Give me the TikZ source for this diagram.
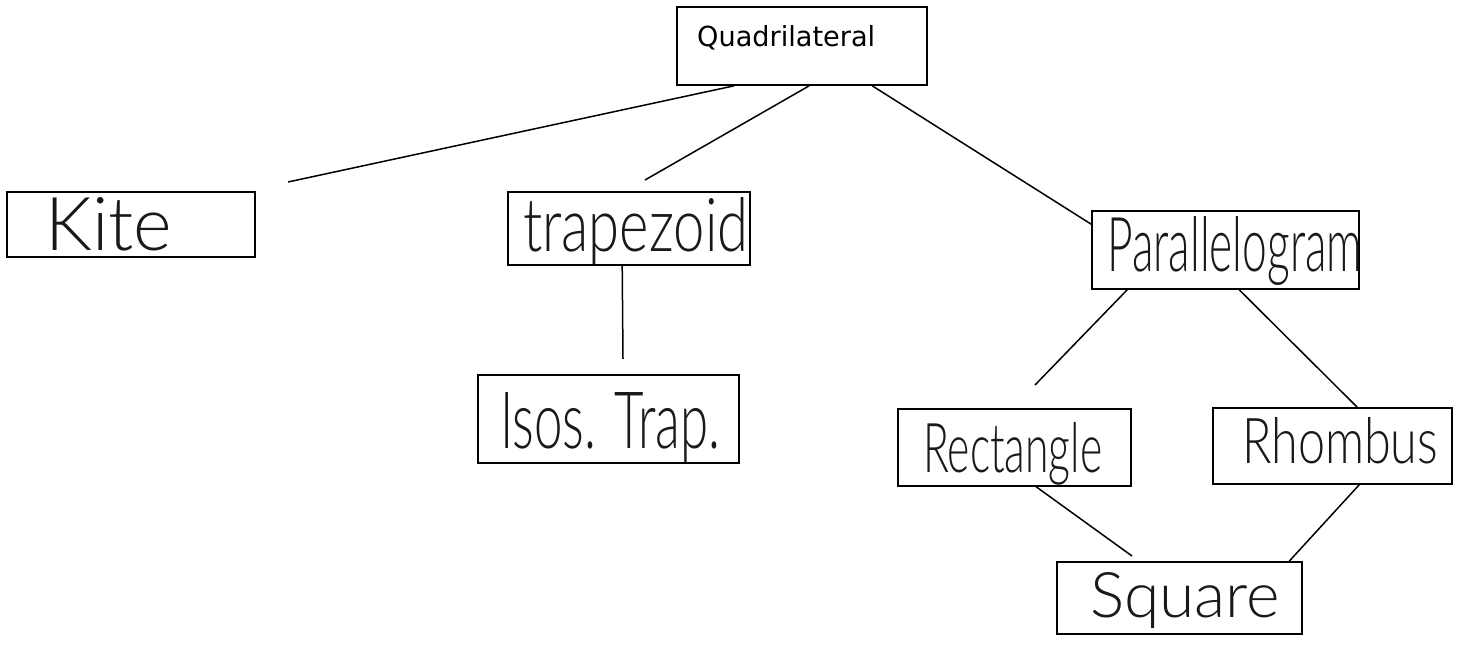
\documentclass[tikz,border=0pt]{standalone}
\usepackage{fontspec}
\usepackage{graphicx}
\usetikzlibrary{calc}
\newfontfamily\handfont{Lato Light}
\newfontfamily\typefont{DejaVu Sans}
\newcommand{\hw}[3]{\resizebox{#1pt}{#2pt}{\handfont #3}}
\tikzset{
  box/.style={draw=black, line width=1.6pt, fill=none, inner sep=0pt},
  conn/.style={draw=black, line width=1.5pt},
  hand/.style={anchor=base west, inner sep=0pt, text=black!90},
}
\begin{document}
\begin{tikzpicture}[x=1pt,y=-1pt]
\useasboundingbox (0,0) rectangle (1462,671);
\fill[white] (0,0) rectangle (1462,671);

% boxes
\node[box, minimum width=250pt, minimum height=78pt] (quad) at (802,46) {};
\node[box, minimum width=248pt, minimum height=65pt] (kite) at (131,224.5) {};
\node[box, minimum width=242pt, minimum height=73pt] (trap) at (629,228.5) {};
\node[box, minimum width=261pt, minimum height=88pt] (isos) at (608.5,419) {};
\node[box, minimum width=267pt, minimum height=78pt] (para) at (1225.5,250) {};
\node[box, minimum width=233pt, minimum height=77pt] (rect) at (1014.5,447.5) {};
\node[box, minimum width=239pt, minimum height=76pt] (rhom) at (1332.5,446) {};
\node[box, minimum width=245pt, minimum height=72pt] (sq) at (1179.5,598) {};

% texts
\node[anchor=base west, inner sep=0pt] (quadtext) at (697,47) {\resizebox{178pt}{21pt}{\typefont Quadrilateral}};
\node[hand] (kitetext) at (45,251) {\hw{127}{53}{Kite}};
\node[hand] (traptext) at (523,252) {\hw{225}{54}{trapezoid}};
\node[hand] (isostext) at (500,448) {\hw{220}{56}{Isos. Trap.}};
\node[hand] (paratext) at (1107,272) {\hw{255}{55}{Parallelogram}};
\node[hand] (recttext) at (923,472) {\hw{179}{50}{Rectangle}};
\node[hand] (rhomtext) at (1242,463) {\hw{196}{46}{Rhombus}};
\node[hand] (sqtext) at (1090,617) {\hw{190}{45}{Square}};

% free ends
\coordinate (kiteend) at (288,182);
\coordinate (trapend) at (645,180);
\coordinate (isosend) at (623,359);
\coordinate (rectend) at (1035,385);
\coordinate (sqend) at (1132,556);

% connectors
\draw[conn] ($(quad.south west)+(58,0)$) -- (kiteend);
\draw[conn] ($(quad.south west)+(133,0)$) -- (trapend);
\draw[conn] ($(quad.south west)+(196,0)$) -- ($(para.north west)+(0,14)$);
\draw[conn] ($(trap.south west)+(115,0)$) -- (isosend);
\draw[conn] ($(para.south west)+(36,0)$) -- (rectend);
\draw[conn] ($(para.south west)+(148,0)$) -- ($(rhom.north west)+(145,0)$);
\draw[conn] ($(rect.south west)+(139,0)$) -- (sqend);
\draw[conn] ($(rhom.south west)+(147,0)$) -- ($(sq.north west)+(233,0)$);
\end{tikzpicture}
\end{document}
